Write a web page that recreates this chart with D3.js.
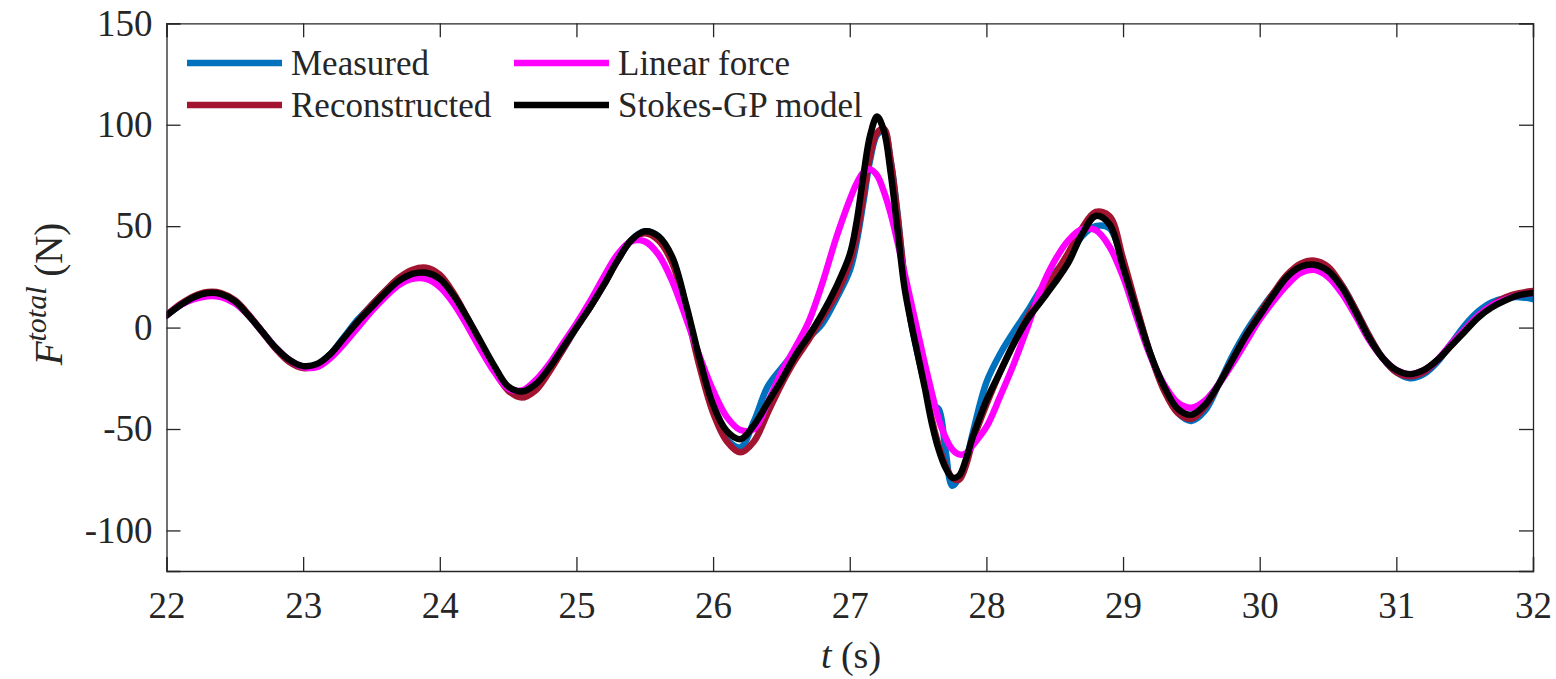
<!DOCTYPE html>
<html>
<head>
<meta charset="utf-8">
<script src="https://cdnjs.cloudflare.com/ajax/libs/d3/7.8.5/d3.min.js"></script>
<style>
  body { margin: 0; background: #fff; }
  text { font-family: "Liberation Serif", "Times New Roman", serif; fill: #262626; }
</style>
</head>
<body>
<div id="graph"></div>
<script>
// sample times (s) - finer around the big wave at 27-28 s
const times = [
  22.0,22.1,22.2,22.3,22.4,22.5,22.6,22.7,22.8,22.9,
  23.0,23.1,23.2,23.3,23.4,23.5,23.6,23.7,23.8,23.9,
  24.0,24.1,24.2,24.3,24.4,24.5,24.6,24.7,24.8,24.9,
  25.0,25.1,25.2,25.3,25.4,25.5,25.6,25.7,25.8,25.9,
  26.0,26.1,26.2,26.3,26.4,26.5,26.6,26.7,26.8,26.9,
  27.0,27.05,27.1,27.15,27.2,27.25,27.3,27.35,27.4,27.45,
  27.5,27.55,27.6,27.65,27.7,27.75,27.8,27.85,27.9,
  28.0,28.1,28.2,28.3,28.4,28.5,28.6,28.7,28.8,28.9,
  29.0,29.1,29.2,29.3,29.4,29.5,29.6,29.7,29.8,29.9,
  30.0,30.1,30.2,30.3,30.4,30.5,30.6,30.7,30.8,30.9,
  31.0,31.1,31.2,31.3,31.4,31.5,31.6,31.7,31.8,31.9,
  32.0
];

const measured = [
  6,11,15,17,16.5,13,6,-2,-10,-16.5,
  -19.5,-18.5,-13,-4.5,4,11,18,24,27.5,28,
  25,16,4,-8,-20,-30,-33,-30,-21,-11,
  0,10,21,33,43,47.5,45,34,11,-17,
  -41,-55,-59,-46,-29,-20,-12,-5,2,14,
  28,42,62,83,95,97,82,56,24,2,
  -14,-28,-38,-40,-60,-78,-74,-66,-52,
  -27,-13,-2,8,19,27,35,45,50,49,
  32,9,-13,-30,-42,-46,-41,-28,-14,-2,
  8,17,24,29,30,28,21,9,-4,-15,
  -22,-25,-23,-17,-8,1,8,12.5,14.5,15,
  14
];

const reconstructed = [
  6,11.5,15.5,17.5,17,13.5,6.5,-2,-10.5,-17,
  -20,-19,-14,-5.5,3,11,18,24.5,28.5,29.5,
  26,17,5,-8,-21,-31,-34.5,-31,-22,-11,
  0,10,21,33,43,46.5,43,32,9,-19,
  -42,-56,-61.5,-56,-42,-28,-16,-6,5,16,
  32,45,65,85,96,98,82,55,25,3,
  -13,-28,-45,-58,-68,-74,-75,-68,-56,
  -38,-22,-8,5,16,26,37,49,57,55,
  34,10,-13,-31,-42,-45,-39,-28,-16,-4,
  7,17,26,31.5,33,30,21,9,-4,-15,
  -22,-24,-22,-16,-9,-1.5,5.5,11,15,17,
  18
];

const linearForce = [
  6,11,14,15.5,15,12,6,-2,-10,-16,
  -19.5,-19.5,-15,-8,0,8,15,21,24,24,
  20,12,1,-11,-22,-30,-31,-26,-18,-8,
  2,13,25,36,42.5,42.5,36,23,5,-14,
  -31,-44,-50.5,-50,-37,-22,-10,3,22,44,
  63,71,76.5,78,75,67,56,42,27,12,
  -3,-18,-32,-45,-54,-60,-62.5,-62,-58,
  -49,-34,-18,0,19,33,43,48.5,48,40,
  25,5,-14,-28,-37,-39.5,-36,-28,-18,-7,
  4,13,21,27,28.5,25,17,6,-6,-15,
  -21,-23,-21,-16,-8,-1,6,11,14,16,
  17
];

const stokesGP = [
  6,11,15,17,16.5,13,6,-2,-10,-16,
  -19,-18,-13,-5,3,10,17,23,26.5,27,
  24,16,5,-7,-19,-29,-31.5,-28,-20,-10,
  0,10,21,33,43,47.5,45,35,12,-15,
  -38,-51,-55,-48,-37,-26,-14,-4,7,20,
  36,52,75,95,104,97,76,48,20,2,
  -14,-30,-47,-60,-69,-74,-73,-65,-54,
  -36,-22,-8,4,13,22,32,46,55,51,
  30,8,-13,-29,-40,-43,-38,-28,-16,-4,
  6,16,25,30,31,28,20,8,-5,-15,
  -21,-23,-21,-16,-9,-2,5,10,13.5,16,
  17
];

const seriesNames = ["Measured", "Reconstructed", "Linear force", "Stokes-GP model"];
const seriesColors = ["#0072BD", "#A2142F", "#FF00FF", "#000000"];
const seriesValues = [measured, reconstructed, linearForce, stokesGP];

const xTicks = [22, 23, 24, 25, 26, 27, 28, 29, 30, 31, 32];
const yTicks = [-100, -50, 0, 50, 100, 150];

const w = 1556, h = 679;
const mLeft = 166.5, mRight = 1533, mTop = 23.3, mBottom = 571;
const tickLen = 14;
const axisColor = "#262626";

const svg = d3.select("#graph")
              .append("svg")
              .attr("width", w)
              .attr("height", h);

const xScale = d3.scaleLinear()
                 .domain([22, 32])
                 .range([mLeft, mRight]);

const yScale = d3.scaleLinear()
                 .domain([-120, 150])
                 .range([mBottom, mTop]);

svg.append("defs")
   .append("clipPath")
   .attr("id", "plot-area")
   .append("rect")
   .attr("x", mLeft)
   .attr("y", mTop)
   .attr("width", mRight - mLeft)
   .attr("height", mBottom - mTop);

// curves
const line = d3.line()
               .x(d => xScale(d[0]))
               .y(d => yScale(d[1]))
               .curve(d3.curveCatmullRom.alpha(0.5));

const plot = svg.append("g").attr("clip-path", "url(#plot-area)");

seriesValues.forEach((vals, i) => {
  plot.append("path")
      .datum(times.map((t, j) => [t, vals[j]]))
      .attr("fill", "none")
      .attr("stroke", seriesColors[i])
      .attr("stroke-width", 6.5)
      .attr("stroke-linejoin", "round")
      .attr("stroke-linecap", "round")
      .attr("d", line);
});

// axes: bottom / left with labels, top / right mirrored ticks only
const xAxis = d3.axisBottom(xScale)
                .tickValues(xTicks)
                .tickSize(-tickLen)
                .tickPadding(21)
                .tickFormat(d => d);

const yAxis = d3.axisLeft(yScale)
                .tickValues(yTicks)
                .tickSize(-tickLen)
                .tickPadding(14)
                .tickFormat(d => d);

const gx = svg.append("g")
              .attr("transform", `translate(0, ${mBottom})`)
              .call(xAxis);

const gy = svg.append("g")
              .attr("transform", `translate(${mLeft}, 0)`)
              .call(yAxis);

const gxTop = svg.append("g")
                 .attr("transform", `translate(0, ${mTop})`)
                 .call(d3.axisTop(xScale).tickValues(xTicks).tickSize(-tickLen).tickFormat(""));

const gyRight = svg.append("g")
                   .attr("transform", `translate(${mRight}, 0)`)
                   .call(d3.axisRight(yScale).tickValues(yTicks).tickSize(-tickLen).tickFormat(""));

[gx, gy, gxTop, gyRight].forEach(g => {
  g.select(".domain").attr("stroke", axisColor).attr("stroke-width", 1.3);
  g.selectAll(".tick line").attr("stroke", axisColor).attr("stroke-width", 1.3);
  g.selectAll(".tick text")
   .style("font-family", "'Liberation Serif', 'Times New Roman', serif")
   .style("font-size", "37px")
   .attr("fill", axisColor);
});

// axis titles
const xLabel = svg.append("text")
                  .attr("x", 851)
                  .attr("y", 668)
                  .attr("text-anchor", "middle")
                  .style("font-size", "38px");
xLabel.append("tspan").style("font-style", "italic").text("t");
xLabel.append("tspan").text(" (s)");

const yLabel = svg.append("text")
                  .attr("transform", "translate(62, 294) rotate(-90)")
                  .attr("text-anchor", "middle")
                  .style("font-size", "39px");
yLabel.append("tspan").style("font-style", "italic").text("F");
yLabel.append("tspan")
      .style("font-style", "italic")
      .style("font-size", "30px")
      .attr("dy", -16)
      .text("total");
yLabel.append("tspan").attr("dy", 16).text(" (N)");

// legend
const legendPos = [[187, 63], [187, 105], [514, 63], [514, 105]];
const legend = svg.append("g").attr("id", "legend");

seriesNames.forEach((name, i) => {
  const [lx, ly] = legendPos[i];
  legend.append("line")
        .attr("x1", lx)
        .attr("x2", lx + 95)
        .attr("y1", ly)
        .attr("y2", ly)
        .attr("stroke", seriesColors[i])
        .attr("stroke-width", 6.5);
  legend.append("text")
        .attr("x", lx + 104)
        .attr("y", ly + 12)
        .style("font-size", "35px")
        .attr("fill", "#000")
        .text(name);
});
</script>
</body>
</html>
